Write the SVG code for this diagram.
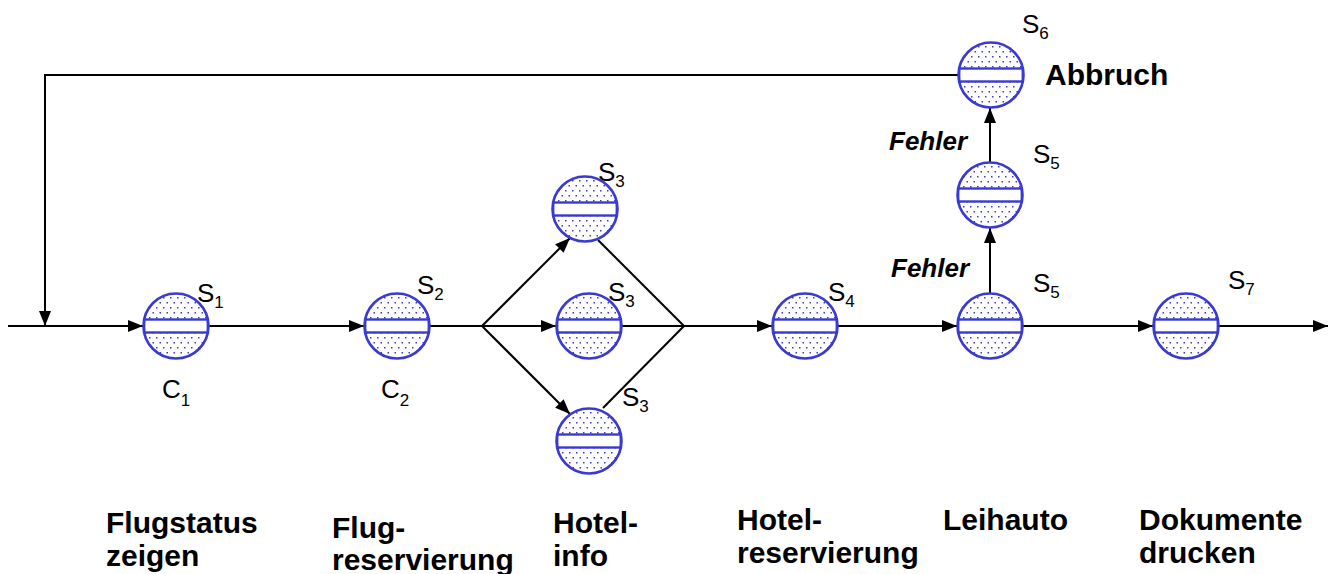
<svg xmlns="http://www.w3.org/2000/svg" xmlns:xlink="http://www.w3.org/1999/xlink" width="1329" height="574" viewBox="0 0 1329 574">
<style>
.ln{fill:none;stroke:#000;stroke-width:2}
.s{font-family:"Liberation Sans",Arial,sans-serif;font-size:26px;fill:#000}
.sub{font-size:17px}
.b{font-family:"Liberation Sans",Arial,sans-serif;font-size:30px;font-weight:bold;fill:#000}
.f{font-family:"Liberation Sans",Arial,sans-serif;font-size:26px;font-weight:bold;font-style:italic;fill:#000}
</style>
<defs>
<pattern id="dots" width="7" height="10" patternUnits="userSpaceOnUse">
<rect width="7" height="10" fill="#fff"/>
<rect x="1" y="1" width="1.5" height="1.5" fill="#3a3ad0"/>
<rect x="4.5" y="6" width="1.5" height="1.5" fill="#3a3ad0"/>
</pattern>
<g id="node">
<circle r="32.5" fill="url(#dots)"/>
<rect x="-31.8" y="-6.5" width="63.6" height="13" fill="#fff" stroke="#3a3ad0" stroke-width="2.4"/>
<circle r="32.5" fill="none" stroke="#3a3ad0" stroke-width="2.6"/>
</g>
<marker id="arr" markerUnits="userSpaceOnUse" markerWidth="15" markerHeight="12" refX="15" refY="6" orient="auto">
<path d="M0,0 L15,6 L0,12 z" fill="#000"/>
</marker>
</defs>
<rect width="1329" height="574" fill="#fff"/>

<g id="connectors">
<path class="ln" d="M8,326 H143" marker-end="url(#arr)"/>
<path class="ln" d="M958,75 H45 V326" marker-end="url(#arr)"/>
<path class="ln" d="M209,326 H364" marker-end="url(#arr)"/>
<path class="ln" d="M430,326 H482"/>
<path class="ln" d="M482,326 L570,238" marker-end="url(#arr)"/>
<path class="ln" d="M482,326 H556" marker-end="url(#arr)"/>
<path class="ln" d="M482,326 L570,414" marker-end="url(#arr)"/>
<path class="ln" d="M598,240 L684,326"/>
<path class="ln" d="M603,408 L684,326"/>
<path class="ln" d="M622,326 H772" marker-end="url(#arr)"/>
<path class="ln" d="M838,326 H957" marker-end="url(#arr)"/>
<path class="ln" d="M990,293 V228" marker-end="url(#arr)"/>
<path class="ln" d="M990,162 V108" marker-end="url(#arr)"/>
<path class="ln" d="M1023,326 H1153" marker-end="url(#arr)"/>
<path class="ln" d="M1219,326 H1328" marker-end="url(#arr)"/>
<text class="f" x="889" y="150">Fehler</text>
<text class="f" x="891" y="277">Fehler</text>
</g>

<g id="n1"><use xlink:href="#node" transform="translate(176,326)"/>
<text class="s" x="197" y="302">S<tspan class="sub" dy="6">1</tspan></text>
<text class="s" x="162" y="398">C<tspan class="sub" dy="8">1</tspan></text>
<text class="b" x="106" y="533">Flugstatus</text>
<text class="b" x="106" y="566">zeigen</text>
</g>
<g id="n2"><use xlink:href="#node" transform="translate(397,326)"/>
<text class="s" x="417" y="294">S<tspan class="sub" dy="6">2</tspan></text>
<text class="s" x="381" y="398">C<tspan class="sub" dy="8">2</tspan></text>
<text class="b" x="332" y="538">Flug-</text>
<text class="b" x="332" y="570">reservierung</text>
</g>
<g id="n3a"><use xlink:href="#node" transform="translate(585,209)"/>
<text class="s" x="598" y="181">S<tspan class="sub" dy="6">3</tspan></text>
</g>
<g id="n3b"><use xlink:href="#node" transform="translate(589,326)"/>
<text class="s" x="608" y="301">S<tspan class="sub" dy="6">3</tspan></text>
<text class="b" x="553" y="533">Hotel-</text>
<text class="b" x="553" y="566">info</text>
</g>
<g id="n3c"><use xlink:href="#node" transform="translate(589,441)"/>
<text class="s" x="622" y="406">S<tspan class="sub" dy="6">3</tspan></text>
</g>
<g id="n4"><use xlink:href="#node" transform="translate(805,326)"/>
<text class="s" x="828" y="301">S<tspan class="sub" dy="6">4</tspan></text>
<text class="b" x="737" y="530">Hotel-</text>
<text class="b" x="737" y="563">reservierung</text>
</g>
<g id="n5"><use xlink:href="#node" transform="translate(990,326)"/>
<text class="s" x="1033" y="292">S<tspan class="sub" dy="6">5</tspan></text>
<text class="b" x="943" y="530">Leihauto</text>
</g>
<g id="n5b"><use xlink:href="#node" transform="translate(990,195)"/>
<text class="s" x="1033" y="163">S<tspan class="sub" dy="6">5</tspan></text>
</g>
<g id="n6"><use xlink:href="#node" transform="translate(991,75)"/>
<text class="s" x="1022" y="33">S<tspan class="sub" dy="6">6</tspan></text>
<text class="b" x="1045" y="85">Abbruch</text>
</g>
<g id="n7"><use xlink:href="#node" transform="translate(1186,326)"/>
<text class="s" x="1228" y="289">S<tspan class="sub" dy="6">7</tspan></text>
<text class="b" x="1139" y="530">Dokumente</text>
<text class="b" x="1139" y="563">drucken</text>
</g>
</svg>
